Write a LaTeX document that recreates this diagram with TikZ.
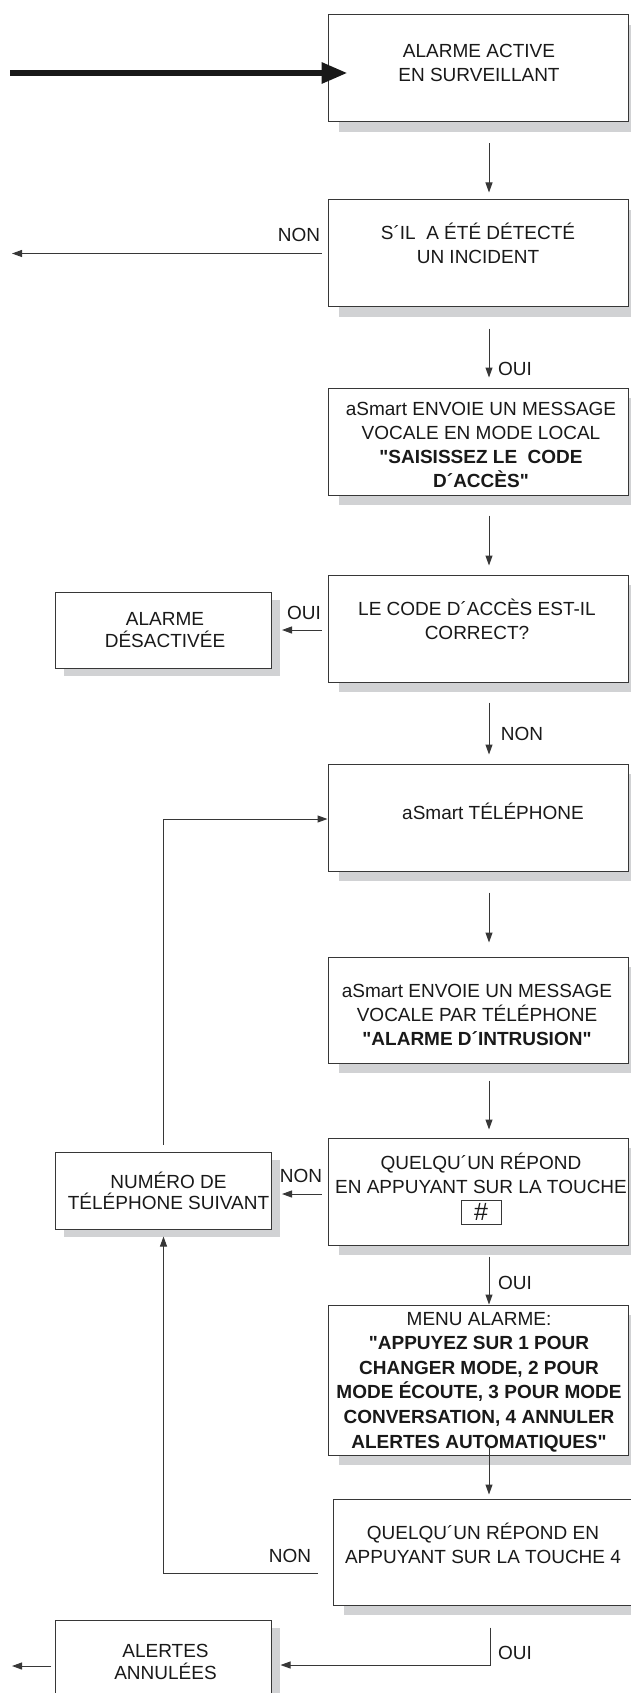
\documentclass[tikz,border=0pt]{standalone}
\usepackage{fontspec}
\setmainfont{Liberation Sans}
\usetikzlibrary{arrows.meta,shadows}
\definecolor{shadowc}{RGB}{209,210,212}
\definecolor{linec}{RGB}{55,55,55}
\definecolor{textc}{RGB}{25,25,25}
\font\rawbold="Liberation Sans/B" at 19pt
\newcommand\dq{{\rawbold"}}
\newcommand\tp{\rule{0pt}{18pt}}
\newcommand\bt{\rule[-6pt]{0pt}{6pt}}
\begin{document}
\begin{tikzpicture}[x=1pt,y=-1pt,
  box/.style={draw=linec, line width=1pt, fill=white, inner sep=0pt,
    minimum width=300pt, minimum height=107pt,
    drop shadow={shadow xshift=11pt, shadow yshift=-10pt, fill=shadowc, opacity=1}},
  smallbox/.style={draw=linec, line width=1pt, fill=white, inner sep=0pt,
    minimum width=216pt, minimum height=77pt,
    drop shadow={shadow xshift=8pt, shadow yshift=-8pt, fill=shadowc, opacity=1}},
  txt/.style={align=center, inner sep=0pt, text=textc, font=\fontsize{19}{24}\selectfont},
  stxt/.style={align=center, inner sep=0pt, text=textc, font=\fontsize{19}{22}\selectfont},
  lbl/.style={inner sep=0pt, text=textc, text height=18pt, text depth=6pt, font=\fontsize{19}{24}\selectfont},
  arr/.style={draw=linec, line width=1pt, -{Triangle[length=10pt,width=7pt]}},
  bigarr/.style={draw=black!90, line width=6pt, -{Triangle[length=26pt,width=20pt]}}
]
\useasboundingbox (0,0) rectangle (631,1693);

% main column boxes
\node[box] (b1) at (478,68.5) {};
\node[box] (b2) at (478,253.5) {};
\node[box] (b3) at (478,441.5) {};
\node[box] (b4) at (478,628.5) {};
\node[box] (b5) at (478,817.5) {};
\node[box, minimum height=106pt] (b6) at (478,1010) {};
\node[box] (b7) at (478,1191.5) {};
\node[box, minimum height=150pt] (b8) at (478,1380) {};
\node[box, minimum width=298pt, minimum height=106pt] (b9) at (482,1552) {};

% side boxes
\node[smallbox, minimum height=76pt] (s1) at (163.5,630) {};
\node[smallbox] (s2) at (163.5,1190.5) {};
\node[smallbox] (s3) at (163.5,1658.5) {};

% texts
\node[txt] (t1) at (479,63.5) {\tp ALARME ACTIVE\\EN SURVEILLANT\bt};
\node[txt] (t2) at (478,246) {\tp S´IL\ \ A ÉTÉ DÉTECTÉ\\UN INCIDENT\bt};
\node[txt] (t3) at (481,445) {\tp aSmart ENVOIE UN MESSAGE\\VOCALE EN MODE LOCAL\\\textbf{\dq SAISISSEZ LE\ \ CODE}\\\textbf{D´ACCÈS\dq}\bt};
\node[txt] (t4) at (477,621) {\tp LE CODE D´ACCÈS EST-IL\\CORRECT?\bt};
\node[txt] (t5) at (493,813) {\tp aSmart TÉLÉPHONE\bt};
\node[txt] (t6) at (477,1015) {\tp aSmart ENVOIE UN MESSAGE\\VOCALE PAR TÉLÉPHONE\\\textbf{\dq ALARME D´INTRUSION\dq}\bt};
\node[txt] (t7) at (481,1175) {\tp QUELQU´UN RÉPOND\\EN APPUYANT SUR LA TOUCHE\bt};
\node[draw=linec, line width=1pt, minimum width=40pt, minimum height=24pt, inner sep=0pt,
  text=textc, font=\fontsize{25}{25}\selectfont] (hash) at (481,1212) {\#};
\node[txt, font=\fontsize{19}{24.6}\selectfont] (t8) at (479,1380.5) {\tp MENU ALARME:\\\textbf{\dq APPUYEZ SUR 1 POUR}\\\textbf{CHANGER MODE, 2 POUR}\\\textbf{MODE ÉCOUTE, 3 POUR MODE}\\\textbf{CONVERSATION, 4 ANNULER}\\\textbf{ALERTES AUTOMATIQUES\dq}\bt};
\node[txt] (t9) at (483,1545) {\tp QUELQU´UN RÉPOND EN\\APPUYANT SUR LA TOUCHE 4\bt};
\node[stxt] (u1) at (165,630) {\tp ALARME\\DÉSACTIVÉE\bt};
\node[stxt, font=\fontsize{19}{21}\selectfont] (u2) at (168.5,1193) {\tp NUMÉRO DE\\TÉLÉPHONE SUIVANT\bt};
\node[stxt] (u3) at (165.5,1662) {\tp ALERTES\\ANNULÉES\bt};

% labels
\node[lbl] (l1) at (299,236) {NON};
\node[lbl] (l2) at (515,369) {OUI};
\node[lbl] (l3) at (304,613) {OUI};
\node[lbl] (l4) at (522,734) {NON};
\node[lbl] (l5) at (301,1176) {NON};
\node[lbl] (l6) at (515,1283) {OUI};
\node[lbl] (l7) at (290,1556) {NON};
\node[lbl] (l8) at (515,1653) {OUI};

% connectors
\coordinate (in) at (10,73);
\draw[bigarr] (in) -- ([xshift=20pt,yshift=-4.5pt]b1.west);
\draw[arr, shorten <=21pt, shorten >=7pt] ([xshift=11pt]b1.south) -- ([xshift=11pt]b2.north);
\draw[arr, shorten <=21pt, shorten >=10pt] ([xshift=11pt]b2.south) -- ([xshift=11pt]b3.north);
\draw[arr, shorten <=20pt, shorten >=9pt] ([xshift=11pt]b3.south) -- ([xshift=11pt]b4.north);
\draw[arr, shorten <=20pt, shorten >=9pt] ([xshift=11pt]b4.south) -- ([xshift=11pt]b5.north);
\draw[arr, shorten <=21pt, shorten >=14pt] ([xshift=11pt]b5.south) -- ([xshift=11pt]b6.north);
\draw[arr, shorten <=17pt, shorten >=8pt] ([xshift=11pt]b6.south) -- ([xshift=11pt]b7.north);
\draw[arr, shorten <=11pt] ([xshift=11pt]b7.south) -- ([xshift=11pt]b8.north);
\draw[arr, shorten <=-10pt, shorten >=4pt] ([xshift=11pt]b8.south) -- ([xshift=7pt]b9.north);

\coordinate (out1) at (12,253.5);
\draw[arr, shorten <=6pt] (b2.west) -- (out1);
\draw[arr, shorten <=6pt, shorten >=10pt] (b4.west |- s1.east) -- (s1.east);
\draw[arr, shorten <=7pt] (s2.north) |- ([yshift=-1.5pt]b5.west);
\draw[arr, shorten <=6pt, shorten >=10pt] ([yshift=-2.5pt]b7.west) -- ([yshift=-2.5pt]b7.west -| s2.east);
\draw[arr, shorten >=7pt] ([xshift=-15pt,yshift=-21pt]b9.west) -| (s2.south);
\draw[arr, shorten >=8.5pt] ([xshift=8pt,yshift=-22pt]b9.south) |- ([yshift=-6.5pt]s3.east);
\coordinate (out2) at (12,1666);
\draw[arr, shorten <=4pt] ([yshift=-7.5pt]s3.west) -- (out2);
\end{tikzpicture}
\end{document}
